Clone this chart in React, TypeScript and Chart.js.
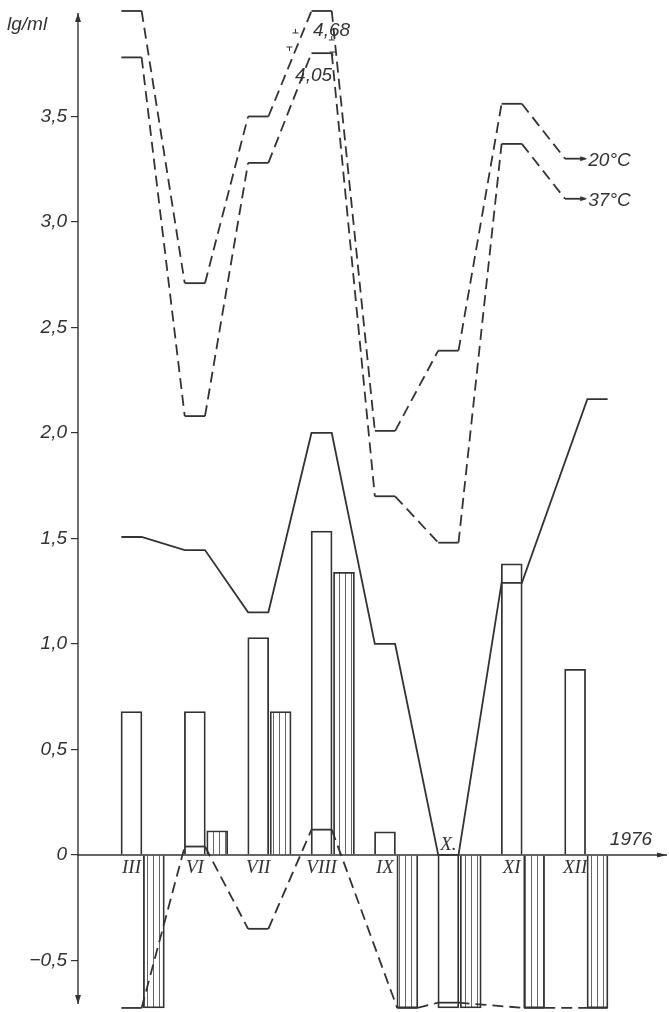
import React, { useEffect, useRef } from 'react';
import { Chart, registerables } from 'chart.js';

Chart.register(...registerables);

// ---- data ----
const months = ['III', 'VI', 'VII', 'VIII', 'IX', 'X', 'XI', 'XII'];
const openBars = [0.68, 0.68, 1.03, 1.535, 0.11, -0.725, 1.38, 0.88];
const hatchedBars = [-0.725, 0.115, 0.68, 1.34, -0.725, -0.725, -0.725, -0.725];
const line20C = [4.0, 2.71, 3.5, 4.0, 2.01, 2.39, 3.56, 3.3];
const line37C = [3.78, 2.08, 3.28, 3.8, 1.7, 1.48, 3.37, 3.11];
const solidLine = [1.507, 1.445, 1.15, 2.0, 1.0, 0.0, 1.29, 2.16];
const lowerLine = [-0.725, 0.04, -0.35, 0.12, -0.725, -0.7, -0.725, -0.725];
// which bar of the month a line point belongs to (0 = open bar, 1 = hatched bar)
const solidLineBar = [0, 0, 0, 0, 0, 0, 0, 1];
const lowerLineBar = [0, 0, 0, 0, 1, 0, 1, 1];
const line20Bar = [0, 0, 0, 0, 0, 0, 0, 0];
const line37Bar = [0, 0, 0, 0, 0, 0, 0, 0];
const yTicks = [-0.5, 0, 0.5, 1, 1.5, 2, 2.5, 3, 3.5];
const brokenPeakLabels = ['4,68', '4,05'];
const seriesLabels = ['20°C', '37°C'];
const yearLabel = '1976';
const unitLabel = 'lg/ml';

// ---- layout constants ----
const INK = '#333';
const HATCH_OFFSET = 0.353; // hatched bar sits next to open bar (month units)
const HALF = 0.16; // half width of a bar in month units
const BAR_PX = 21;
const SANS = '"Liberation Sans", Arial, sans-serif';
const SERIF = '"Liberation Serif", "Times New Roman", serif';

const plateau = (vals: number[], slots: number[]) =>
  vals.flatMap((v, i) => {
    const c = i + slots[i] * HATCH_OFFSET;
    return [
      { x: c - HALF, y: v },
      { x: c + HALF, y: v },
    ];
  });

const fmt = (v: number) =>
  v === 0 ? '0' : (v < 0 ? '\u2212' : '') + Math.abs(v).toFixed(1).replace('.', ',');

function arrowHead(ctx: CanvasRenderingContext2D, x: number, y: number, dir: 'up' | 'down' | 'right', len = 9, w = 3) {
  ctx.beginPath();
  if (dir === 'right') {
    ctx.moveTo(x, y);
    ctx.lineTo(x - len, y - w);
    ctx.lineTo(x - len, y + w);
  } else if (dir === 'up') {
    ctx.moveTo(x, y);
    ctx.lineTo(x - w, y + len);
    ctx.lineTo(x + w, y + len);
  } else {
    ctx.moveTo(x, y);
    ctx.lineTo(x - w, y - len);
    ctx.lineTo(x + w, y - len);
  }
  ctx.closePath();
  ctx.fill();
}

const decor = {
  id: 'decor',
  afterDatasetsDraw(chart: any) {
    const { ctx, chartArea } = chart;
    const xs = chart.scales.x;
    const ys = chart.scales.y;
    const y0 = ys.getPixelForValue(0);
    const left = chartArea.left;
    ctx.save();
    ctx.strokeStyle = INK;
    ctx.fillStyle = INK;
    ctx.lineWidth = 1.4;
    ctx.setLineDash([]);

    // y axis with arrows
    const yTop = chartArea.top + 13;
    const yBot = chartArea.bottom - 5;
    ctx.beginPath();
    ctx.moveTo(left, yTop);
    ctx.lineTo(left, yBot);
    ctx.stroke();
    arrowHead(ctx, left, yTop, 'up');
    arrowHead(ctx, left, yBot, 'down');

    // x axis (zero line) with arrow
    ctx.beginPath();
    ctx.moveTo(left - 1, y0);
    ctx.lineTo(chartArea.right, y0);
    ctx.stroke();
    arrowHead(ctx, chartArea.right, y0, 'right', 10, 2.5);

    // month labels
    ctx.font = `italic 19px ${SERIF}`;
    ctx.textAlign = 'center';
    ctx.textBaseline = 'middle';
    months.forEach((m, i) => {
      const px = xs.getPixelForValue(i);
      if (openBars[i] < 0) {
        ctx.fillText(m + '.', px, y0 - 10);
      } else {
        ctx.fillText(m, px, y0 + 13);
      }
    });

    // year + unit
    ctx.font = `italic 19px ${SANS}`;
    ctx.fillText(yearLabel, chartArea.right - 36, y0 - 15);
    ctx.textAlign = 'left';
    ctx.fillText(unitLabel, left - 71, chartArea.top + 25);

    // series end arrows + labels
    [line20C, line37C].forEach((vals, k) => {
      const last = vals.length - 1;
      const ex = xs.getPixelForValue(last + HALF) + 1;
      const ey = ys.getPixelForValue(vals[last]);
      arrowHead(ctx, ex + 1, ey, 'right', 7, 2.5);
      ctx.textAlign = 'left';
      ctx.fillText(seriesLabels[k], ex + 2, ey + 2);
    });

    // broken peak labels at VIII
    const iPeak = months.indexOf('VIII');
    const pL = xs.getPixelForValue(iPeak - HALF);
    const pR = xs.getPixelForValue(iPeak + HALF);
    const p20 = ys.getPixelForValue(line20C[iPeak]);
    const p37 = ys.getPixelForValue(line37C[iPeak]);
    ctx.textAlign = 'center';
    ctx.fillText(brokenPeakLabels[0], (pL + pR) / 2 + 10, p20 + 20);
    ctx.fillText(brokenPeakLabels[1], (pL + pR) / 2 - 8, p37 + 23);

    // small break marks on the 20°C line
    ctx.lineWidth = 1;
    const tMark = (x: number, y: number, flip: boolean) => {
      ctx.beginPath();
      const hy = flip ? y + 4 : y;
      ctx.moveTo(x - 3, hy);
      ctx.lineTo(x + 3, hy);
      ctx.moveTo(x, y);
      ctx.lineTo(x, y + 4);
      ctx.stroke();
    };
    tMark(pL - 16, p20 + 18, true);
    tMark(pL - 22, p20 + 36, false);
    tMark(pR + 0, p20 + 25, true);
    tMark(pR + 1, p20 + 41, false);

    ctx.restore();
  },
};

export default function App() {
  const ref = useRef<HTMLCanvasElement | null>(null);

  useEffect(() => {
    const canvas = ref.current;
    if (!canvas) return;
    const ctx = canvas.getContext('2d')!;

    const pc = document.createElement('canvas');
    pc.width = 6;
    pc.height = 6;
    const pctx = pc.getContext('2d')!;
    pctx.fillStyle = '#fff';
    pctx.fillRect(0, 0, 6, 6);
    pctx.fillStyle = '#666';
    pctx.fillRect(3, 0, 1, 6);
    const hatch = ctx.createPattern(pc, 'repeat');

    const dashSeg = (ctxS: any) => (ctxS.p0DataIndex % 2 === 0 ? [] : [11, 6]);

    const lineDs = (label: string, data: any[], dashed: boolean) => ({
      type: 'line' as const,
      label,
      data,
      borderColor: INK,
      borderWidth: 1.8,
      pointRadius: 0,
      fill: false,
      tension: 0,
      clip: false,
      order: 0,
      segment: dashed ? { borderDash: dashSeg } : undefined,
    });

    const chart = new Chart(ctx, {
      type: 'bar',
      data: {
        datasets: [
          lineDs('20°C', plateau(line20C, line20Bar), true),
          lineDs('37°C', plateau(line37C, line37Bar), true),
          lineDs('solid', plateau(solidLine, solidLineBar), false),
          lineDs('lower', plateau(lowerLine, lowerLineBar), true),
          {
            type: 'bar' as const,
            label: 'open',
            data: openBars.map((v, i) => ({ x: i, y: v })),
            backgroundColor: '#fff',
            borderColor: INK,
            borderWidth: 1.8,
            barThickness: BAR_PX,
            grouped: false,
            order: 2,
          },
          {
            type: 'bar' as const,
            label: 'hatched',
            data: hatchedBars.map((v, i) => ({ x: i + HATCH_OFFSET, y: v })),
            backgroundColor: hatch as any,
            borderColor: INK,
            borderWidth: 1.8,
            barThickness: BAR_PX,
            grouped: false,
            order: 1,
          },
        ] as any,
      },
      options: {
        animation: false,
        responsive: false,
        devicePixelRatio: 1,
        layout: { padding: { left: 0, right: 2, top: 0, bottom: 3 } },
        plugins: { legend: { display: false }, tooltip: { enabled: false } },
        scales: {
          x: {
            type: 'linear',
            min: -0.844,
            max: 8.45,
            offset: false,
            display: false,
          },
          y: {
            type: 'linear',
            min: -0.73,
            max: 4.052,
            afterBuildTicks: (s: any) => {
              s.ticks = yTicks.map((v) => ({ value: v }));
            },
            afterFit: (s: any) => {
              s.width = 78;
              s.paddingTop = 0;
              s.paddingBottom = 0;
            },
            border: { display: false },
            grid: {
              drawOnChartArea: false,
              drawTicks: true,
              tickLength: 7,
              color: INK,
              lineWidth: 1.2,
            },
            ticks: {
              padding: 4,
              color: INK,
              font: { family: SANS, style: 'italic', size: 19 },
              callback: (v: any) => fmt(Number(v)),
            },
          },
        },
      },
      plugins: [decor],
    });

    return () => chart.destroy();
  }, []);

  return (
    <div style={{ position: 'absolute', left: 0, top: 0, width: 669, height: 1012, background: '#fff' }}>
      <canvas ref={ref} width={669} height={1012} style={{ width: 669, height: 1012, display: 'block' }} />
    </div>
  );
}
